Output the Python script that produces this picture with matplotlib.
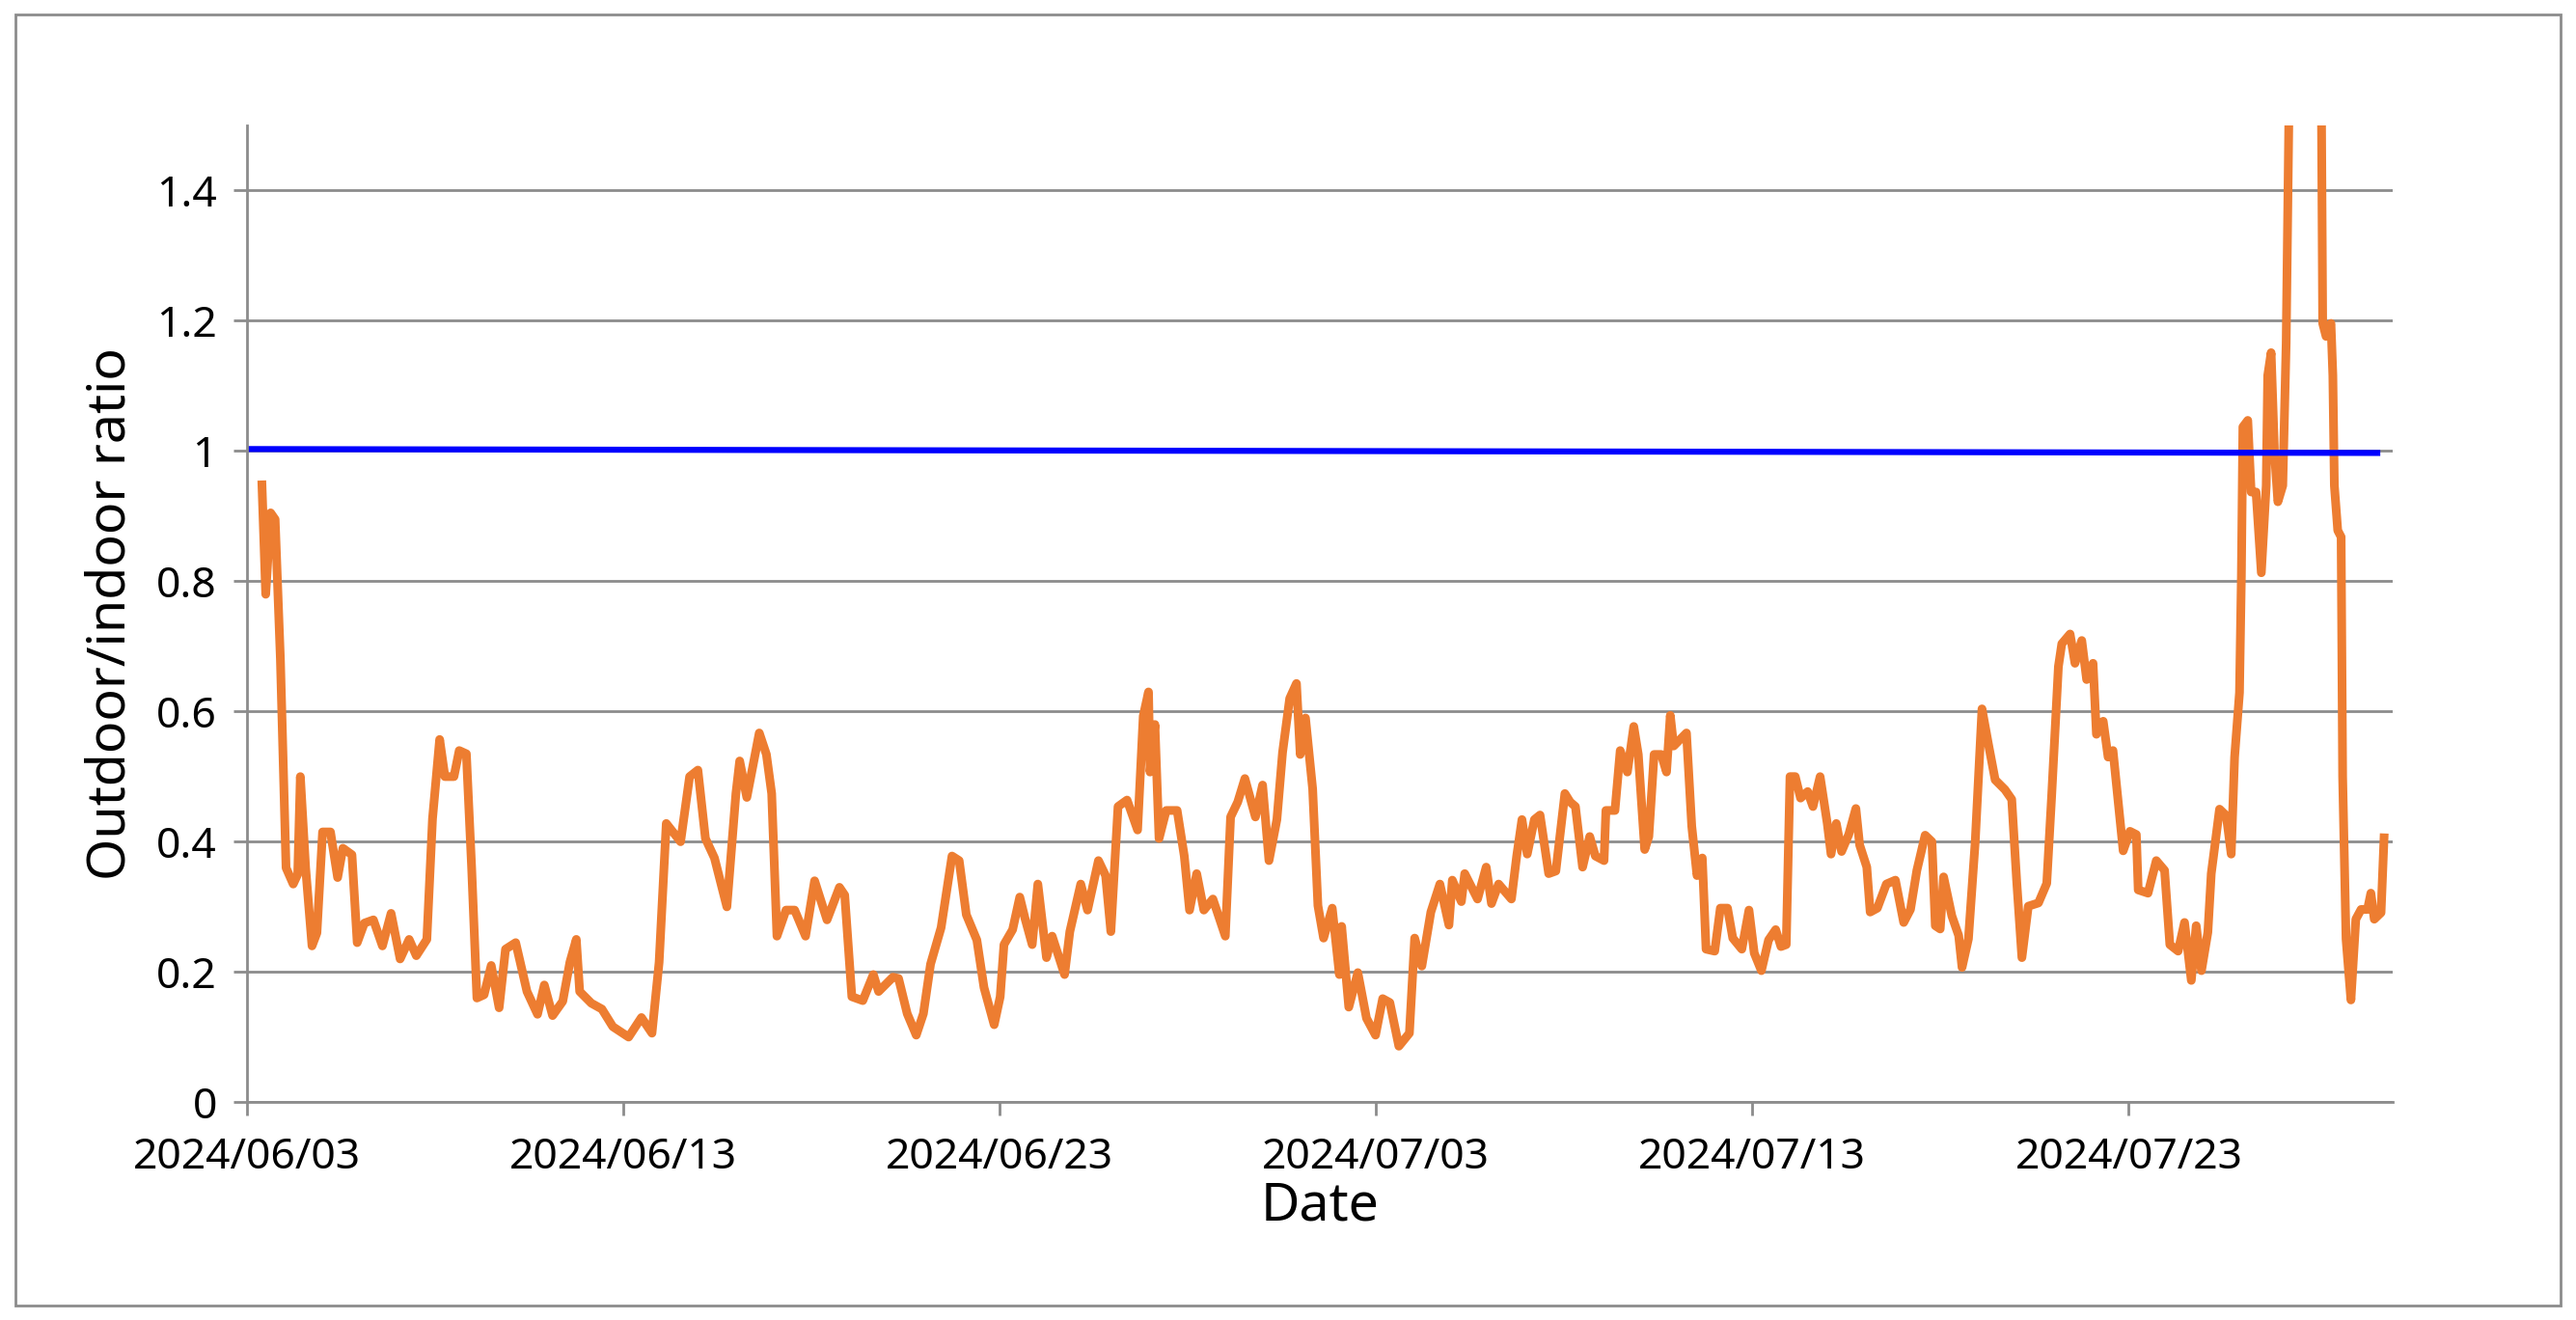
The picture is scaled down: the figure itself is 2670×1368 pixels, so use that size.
import matplotlib
matplotlib.use("Agg")
import matplotlib.pyplot as plt
import matplotlib.dates as mdates
import numpy as np
import pandas as pd

plt.rcParams["font.family"] = ["Noto Sans", "DejaVu Sans"]

# days since 2024/06/03 and ratio values
days = [0.41, 0.51, 0.64, 0.76, 0.90, 0.99, 1.05, 1.24, 1.36, 1.43, 1.57, 1.74, 1.87, 2.02, 2.23,
        2.42, 2.56, 2.80, 2.94, 3.13, 3.37, 3.61, 3.84, 4.08, 4.32, 4.51, 4.79, 4.94, 5.13, 5.27,
        5.51, 5.65, 5.84, 5.98, 6.12, 6.31, 6.50, 6.71, 6.88, 7.15, 7.45, 7.73, 7.91, 8.13, 8.40,
        8.59, 8.76, 8.85, 9.16, 9.44, 9.73, 10.15, 10.49, 10.77, 10.96, 11.15, 11.53, 11.77, 11.99,
        12.19, 12.43, 12.76, 13.0, 13.10, 13.29, 13.62, 13.81, 13.95, 14.09, 14.33,
        14.56, 14.85, 15.09, 15.42, 15.75, 15.89, 16.08, 16.37, 16.65, 16.79, 17.17, 17.32, 17.55,
        17.79, 17.98, 18.17, 18.45, 18.74, 18.93, 19.12, 19.40, 19.59, 19.86, 20.02, 20.12, 20.35,
        20.54, 20.68, 20.87, 21.02, 21.25, 21.40, 21.73, 21.87, 22.16, 22.34, 22.63, 22.82, 22.96,
        23.15, 23.39, 23.67, 23.82, 23.96, 24.0, 24.13, 24.24, 24.43, 24.72, 24.91, 25.05, 25.24,
        25.43, 25.67, 26.0, 26.14, 26.33, 26.52, 26.80, 26.99, 27.16, 27.37, 27.52, 27.71, 27.89,
        27.99, 28.13, 28.32, 28.46, 28.61, 28.84, 29.03,
        29.09, 29.28, 29.52, 29.75, 29.99, 30.18, 30.37, 30.61, 30.89, 31.03, 31.22, 31.46, 31.70,
        31.94, 32.03, 32.27, 32.36, 32.70, 32.93, 33.07, 33.26, 33.60, 33.74, 33.88, 34.02, 34.21,
        34.36, 34.59, 34.78, 35.02, 35.16, 35.30, 35.49, 35.68, 35.83, 36.06, 36.11, 36.35, 36.49,
        36.68, 36.85, 36.97, 37.14, 37.25, 37.39, 37.58, 37.72, 37.82, 37.91, 38.25, 38.39, 38.53,
        38.67, 38.77, 39.0, 39.15, 39.34, 39.48, 39.72, 39.91, 40.05, 40.24, 40.43, 40.62, 40.76,
        40.90, 41.0, 41.14, 41.28, 41.47, 41.61, 41.80, 41.99, 42.09, 42.23, 42.37, 42.56, 42.75,
        42.85, 43.04, 43.13, 43.32, 43.56,
        43.80, 44.02, 44.20, 44.37, 44.59, 44.77, 44.86, 44.99, 45.08, 45.30, 45.48, 45.57, 45.74,
        45.92, 46.10, 46.27, 46.45, 46.71, 46.89, 47.02, 47.16, 47.33, 47.60, 47.82, 47.95, 48.13,
        48.22, 48.44, 48.57, 48.75, 48.88, 49.05, 49.14, 49.32, 49.45, 49.58, 49.72, 49.85, 50.03,
        50.20, 50.25, 50.51, 50.73, 50.95, 51.09, 51.31, 51.48, 51.66, 51.79, 51.93, 52.10, 52.19,
        52.41, 52.59, 52.72, 52.81, 52.94, 52.99, 53.03, 53.16, 53.25, 53.38, 53.52, 53.65, 53.69,
        53.78, 53.87, 53.96, 54.09, 54.18, 54.27, 54.5, 54.8, 55.11, 55.15, 55.24, 55.37, 55.42,
        55.46, 55.55, 55.64, 55.68, 55.77, 55.90, 56.03, 56.17, 56.34, 56.43, 56.52, 56.70, 56.78]

ratio = [0.948, 0.78, 0.905, 0.895, 0.68, 0.49, 0.36, 0.335, 0.35, 0.50, 0.36, 0.24, 0.26, 0.415, 0.415,
         0.345, 0.39, 0.38, 0.245, 0.275, 0.28, 0.24, 0.29, 0.22, 0.25, 0.225, 0.25, 0.435, 0.557, 0.50,
         0.50, 0.54, 0.535, 0.36, 0.16, 0.165, 0.21, 0.145, 0.235, 0.245, 0.17, 0.135, 0.18, 0.133, 0.155,
         0.215, 0.25, 0.17, 0.152, 0.143, 0.116, 0.10, 0.13, 0.106, 0.215, 0.428, 0.40, 0.50, 0.51,
         0.405, 0.375, 0.30, 0.474, 0.524, 0.468, 0.567, 0.534, 0.474, 0.255, 0.295,
         0.295, 0.255, 0.34, 0.28, 0.33, 0.318, 0.162, 0.156, 0.196, 0.17, 0.192, 0.19, 0.136,
         0.103, 0.136, 0.212, 0.268, 0.378, 0.371, 0.288, 0.249, 0.176, 0.119, 0.162, 0.242, 0.265,
         0.315, 0.282, 0.242, 0.335, 0.222, 0.255, 0.196, 0.262, 0.335, 0.295, 0.371, 0.348, 0.262,
         0.454, 0.464, 0.418, 0.593, 0.63, 0.507, 0.58, 0.405, 0.448, 0.448, 0.378, 0.295, 0.351,
         0.295, 0.312, 0.255, 0.438, 0.461, 0.497, 0.438, 0.487, 0.371, 0.434, 0.537, 0.62, 0.643,
         0.534, 0.59, 0.481, 0.302, 0.252, 0.298, 0.196,
         0.27, 0.146, 0.199, 0.129, 0.103, 0.159, 0.153, 0.086, 0.106, 0.252, 0.209, 0.292, 0.335,
         0.272, 0.341, 0.308, 0.351, 0.312, 0.361, 0.305, 0.335, 0.312, 0.378, 0.434, 0.381, 0.434,
         0.441, 0.351, 0.355, 0.474, 0.461, 0.454, 0.361, 0.408, 0.378, 0.371, 0.448, 0.448, 0.540,
         0.507, 0.577, 0.534, 0.388, 0.408, 0.534, 0.534, 0.507, 0.594, 0.547, 0.567, 0.424, 0.348,
         0.375, 0.235, 0.232, 0.298, 0.298, 0.252, 0.235, 0.295, 0.229, 0.202, 0.249, 0.265, 0.239,
         0.242, 0.50, 0.50, 0.467, 0.477, 0.454, 0.50, 0.428, 0.381, 0.428, 0.385, 0.411, 0.451,
         0.395, 0.361, 0.292, 0.298, 0.335,
         0.341, 0.276, 0.296, 0.356, 0.41, 0.40, 0.271, 0.266, 0.346, 0.286, 0.256, 0.207, 0.251,
         0.40, 0.604, 0.55, 0.495, 0.48, 0.465, 0.341, 0.222, 0.301, 0.306, 0.336, 0.47, 0.669,
         0.704, 0.719, 0.674, 0.709, 0.649, 0.674, 0.565, 0.585, 0.53, 0.54, 0.46, 0.386, 0.416,
         0.411, 0.326, 0.321, 0.371, 0.356, 0.242, 0.232, 0.276, 0.187, 0.271, 0.202, 0.261, 0.351,
         0.45, 0.44, 0.381, 0.53, 0.629, 0.808, 1.037, 1.047, 0.937, 0.937, 0.813, 0.947, 1.116,
         1.151, 0.997, 0.922, 0.947, 1.166, 1.6, 1.9, 2.0, 1.6, 1.196, 1.176, 1.196, 1.116,
         0.947, 0.878, 0.868, 0.50, 0.251, 0.157, 0.281, 0.296, 0.296, 0.321, 0.281, 0.291, 0.406]

ref_days = [0.0, 56.6]
ref_ratio = [1.003, 0.997]

start = pd.Timestamp("2024-06-03")
dates = start + pd.to_timedelta(days, unit="D")
ref_dates = start + pd.to_timedelta(ref_days, unit="D")

fig = plt.figure(figsize=(26.7, 13.68), dpi=100)
ax = fig.add_axes([0.0957, 0.165, 0.833, 0.74])

ax.plot(dates, ratio, color="#ED7D31", linewidth=6.5, solid_joinstyle="round")
ax.plot(ref_dates, ref_ratio, color="#0000FF", linewidth=4.5)

ax.set_ylim(0, 1.5)
ax.set_yticks([0, 0.2, 0.4, 0.6, 0.8, 1.0, 1.2, 1.4])
ax.set_yticklabels(["0", "0.2", "0.4", "0.6", "0.8", "1", "1.2", "1.4"])
ax.set_xlim(start, start + pd.Timedelta(days=57))
ax.set_xticks([start + pd.Timedelta(days=d) for d in range(0, 60, 10)])
ax.xaxis.set_major_formatter(mdates.DateFormatter("%Y/%m/%d"))

ax.grid(axis="y", color="#8c8c8c", linewidth=2)
ax.set_axisbelow(True)
for s in ["top", "right"]:
    ax.spines[s].set_visible(False)
for s in ["left", "bottom"]:
    ax.spines[s].set_color("#8c8c8c")
    ax.spines[s].set_linewidth(2)
ax.tick_params(axis="both", labelsize=32, color="#8c8c8c", width=2, length=10)
ax.tick_params(axis="x", pad=16)
ax.tick_params(axis="y", pad=12)

ax.set_xlabel("Date", fontsize=40, fontweight="bold", labelpad=0)
ax.set_ylabel("Outdoor/indoor ratio", fontsize=40, fontweight="bold", labelpad=14)

border = plt.Rectangle((0.006, 0.011), 0.988, 0.978, transform=fig.transFigure,
                       fill=False, edgecolor="#8c8c8c", linewidth=2)
fig.patches.append(border)

fig.savefig("out.png", dpi=100)
